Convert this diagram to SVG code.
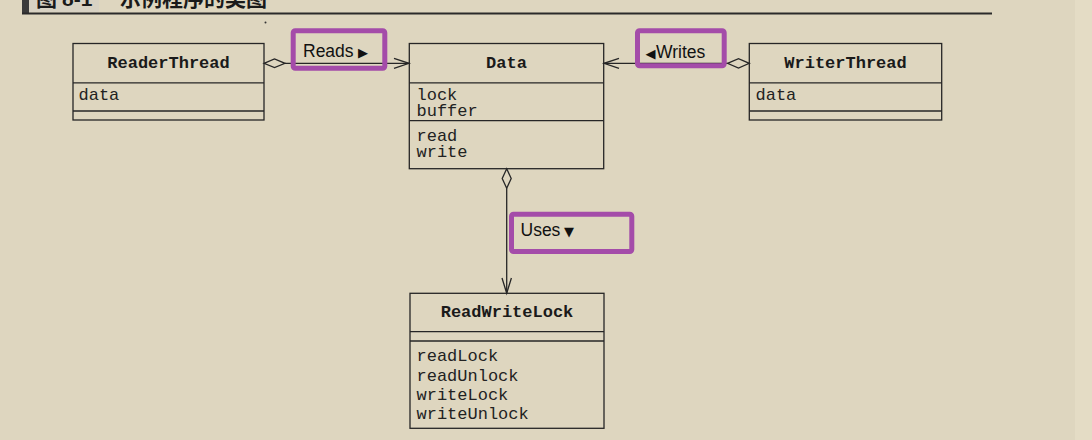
<svg xmlns="http://www.w3.org/2000/svg" width="1092" height="440" viewBox="0 0 1092 440">
<style>
  .box{fill:none;stroke:#262626;stroke-width:1.3}
  .ln{fill:none;stroke:#262626;stroke-width:1.3}
  .dia{fill:#ded6bf;stroke:#262626;stroke-width:1.3}
  .cls{font-family:"Liberation Mono","DejaVu Sans Mono",monospace;font-weight:bold;font-size:17px;fill:#1a1a1a;text-anchor:middle}
  .mem{font-family:"Liberation Mono","DejaVu Sans Mono",monospace;font-size:17px;fill:#222}
  .lbl{font-family:"Liberation Sans","DejaVu Sans",sans-serif;font-size:17.5px;fill:#111}
  .tri{font-family:"DejaVu Sans",sans-serif;font-size:13px;fill:#111}
  .hl{fill:none;stroke:#a44ca9;stroke-width:5}
  .ttl{font-family:"Noto Sans CJK SC","Liberation Sans",sans-serif;font-weight:bold;font-size:21px;fill:#1a1a1a}
</style>
<rect width="1092" height="440" fill="#ded6bf"/>
<rect x="1075" y="0" width="17" height="440" fill="#e4dcc5"/>

<g id="title">
  <rect x="29" y="0" width="70" height="12" fill="#d8d2c3"/>
  <rect x="22" y="0" width="7" height="14" fill="#3a3a3a"/>
  <text class="ttl" x="36" y="6">图</text>
  <text class="ttl" x="62" y="6" style="font-family:'Liberation Sans',sans-serif">8-1</text>
  <text class="ttl" x="120" y="6">示例程序的类图</text>
  <line x1="22" y1="13.5" x2="992" y2="13.5" stroke="#2a2a2a" stroke-width="2"/>
  <circle cx="265.5" cy="22.5" r="1" fill="#333"/>
</g>

<g id="connectors">
  <line class="ln" x1="285" y1="63.3" x2="409" y2="63.3"/>
  <polyline class="ln" points="394,58.3 409,63.3 394,68.3"/>
  <polygon class="dia" points="264,63.3 274.5,59 285,63.3 274.5,67.6"/>

  <line class="ln" x1="604" y1="63.3" x2="727.5" y2="63.3"/>
  <polyline class="ln" points="619,58.3 604,63.3 619,68.3"/>
  <polygon class="dia" points="727.5,63.3 738.5,58.6 749.3,63.3 738.5,68"/>

  <line class="ln" x1="506.7" y1="188.3" x2="506.7" y2="293.3"/>
  <polyline class="ln" points="502,278 506.7,293.3 511.4,278"/>
  <polygon class="dia" points="506.7,168.7 511.2,178.5 506.7,188.3 502.2,178.5"/>
</g>

<g id="ReaderThread">
  <rect class="box" x="73" y="43.5" width="191" height="76.5"/>
  <line class="ln" x1="73" y1="82.8" x2="264" y2="82.8"/>
  <line class="ln" x1="73" y1="111" x2="264" y2="111"/>
  <text class="cls" x="168.5" y="67.7">ReaderThread</text>
  <text class="mem" x="78.5" y="100">data</text>
</g>

<g id="Data">
  <rect class="box" x="409.3" y="43.5" width="194.4" height="125.2"/>
  <line class="ln" x1="409.3" y1="82.8" x2="603.7" y2="82.8"/>
  <line class="ln" x1="409.3" y1="120.7" x2="603.7" y2="120.7"/>
  <text class="cls" x="506.5" y="67.7">Data</text>
  <text class="mem" x="416.5" y="100">lock</text>
  <text class="mem" x="416.5" y="116.3">buffer</text>
  <text class="mem" x="416.5" y="140.5">read</text>
  <text class="mem" x="416.5" y="156.8">write</text>
</g>

<g id="WriterThread">
  <rect class="box" x="749.3" y="43.5" width="192.4" height="76.5"/>
  <line class="ln" x1="749.3" y1="82.8" x2="941.7" y2="82.8"/>
  <line class="ln" x1="749.3" y1="111" x2="941.7" y2="111"/>
  <text class="cls" x="845.5" y="67.7">WriterThread</text>
  <text class="mem" x="755.5" y="100">data</text>
</g>

<g id="ReadWriteLock">
  <rect class="box" x="410" y="293.3" width="194" height="135"/>
  <line class="ln" x1="410" y1="331.7" x2="604" y2="331.7"/>
  <line class="ln" x1="410" y1="341" x2="604" y2="341"/>
  <text class="cls" x="507" y="316.7">ReadWriteLock</text>
  <text class="mem" x="416.5" y="361">readLock</text>
  <text class="mem" x="416.5" y="380.5">readUnlock</text>
  <text class="mem" x="416.5" y="400">writeLock</text>
  <text class="mem" x="416.5" y="419.3">writeUnlock</text>
</g>

<g id="label-reads">
  <rect class="hl" x="293.2" y="30.8" width="91.6" height="37.4" rx="2"/>
  <text class="lbl" x="303" y="56.7">Reads<tspan class="tri" x="358" y="57">▶</tspan></text>
</g>
<g id="label-writes">
  <rect class="hl" x="637.5" y="30.8" width="86.7" height="35" rx="2"/>
  <text class="lbl" x="645.5" y="57.3"><tspan class="tri" y="57.5">◀</tspan><tspan x="656">Writes</tspan></text>
</g>
<g id="label-uses">
  <rect class="hl" x="511.5" y="214.2" width="120.3" height="37.3" rx="2"/>
  <text class="lbl" x="520.5" y="236">Uses<tspan class="tri" x="564" y="236">▼</tspan></text>
</g>
</svg>
